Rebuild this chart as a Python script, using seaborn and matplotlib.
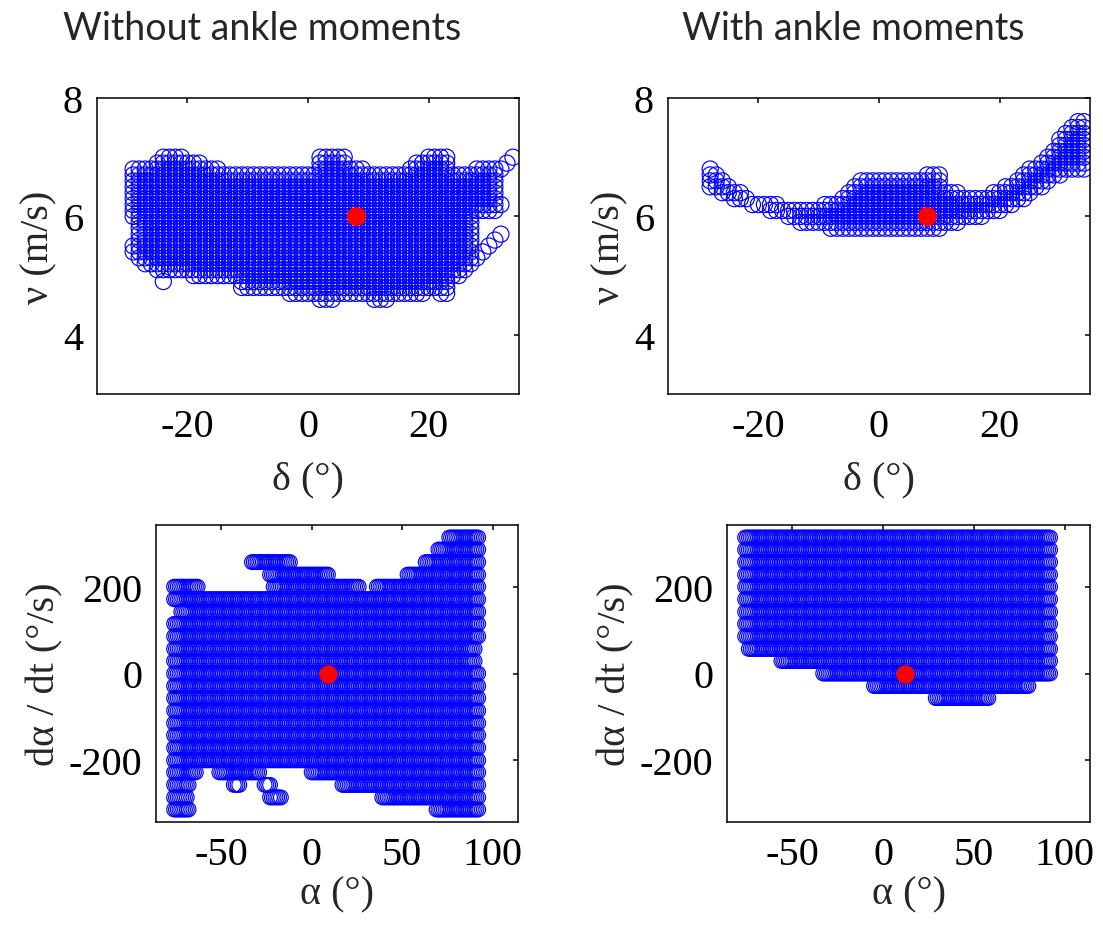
import numpy as np
import pandas as pd
import matplotlib
matplotlib.use("Agg")
import matplotlib.pyplot as plt
import seaborn as sns

# ---------------------------------------------------------------------------
# Top row: stable (steer angle δ [deg], speed ν [m/s]) states.
# Each δ column holds speeds from low to high on a 0.1 m/s grid.
# ---------------------------------------------------------------------------
V_STEP = 0.1

no_ankle_delta = [-29, -28, -27, -26, -25, -24, -23, -22, -21, -20, -19, -18,
                  -17, -16, -15, -14, -13, -12, -11, -10, -9, -8, -7, -6, -5,
                  -4, -3, -2, -1, 0, 1, 2, 3, 4, 5, 6, 7, 8, 9, 10, 11, 12,
                  13, 14, 15, 16, 17, 18, 19, 20, 21, 22, 23, 24, 25, 26, 27,
                  28, 29, 30, 31]
no_ankle_v_low = [6.0, 5.3, 5.2, 5.2, 5.1, 5.1, 5.1, 5.1, 5.1, 5.1, 5.0, 5.0,
                  5.0, 5.0, 5.0, 5.0, 5.0, 5.0, 4.8, 4.8, 4.8, 4.8, 4.8, 4.8,
                  4.8, 4.8, 4.7, 4.7, 4.7, 4.7, 4.7, 4.6, 4.6, 4.6, 4.7, 4.7,
                  4.7, 4.7, 4.7, 4.7, 4.6, 4.6, 4.6, 4.7, 4.7, 4.7, 4.7, 4.7,
                  4.7, 4.8, 4.8, 4.7, 4.7, 5.0, 5.0, 5.1, 5.2, 6.1, 6.1, 6.1,
                  6.1]
no_ankle_v_high = [6.8, 6.8, 6.8, 6.8, 6.9, 7.0, 7.0, 7.0, 7.0, 6.9, 6.9, 6.9,
                   6.8, 6.8, 6.8, 6.7, 6.7, 6.7, 6.7, 6.7, 6.7, 6.7, 6.7, 6.7,
                   6.7, 6.7, 6.7, 6.7, 6.7, 6.7, 6.7, 7.0, 7.0, 7.0, 7.0, 7.0,
                   6.8, 6.8, 6.8, 6.7, 6.7, 6.7, 6.7, 6.7, 6.7, 6.7, 6.8, 6.9,
                   6.9, 7.0, 7.0, 7.0, 7.0, 6.7, 6.7, 6.7, 6.7, 6.8, 6.8, 6.8,
                   6.8]
# isolated stable states outside the main block
no_ankle_extra_delta = [-29, -29, -24, 28, 29, 30, 31, 32, 32, 32, 33, 34]
no_ankle_extra_v = [5.4, 5.5, 4.9, 5.3, 5.4, 5.5, 5.6, 5.7, 6.2, 6.8, 6.9, 7.0]

ankle_delta = list(range(-28, 35))
ankle_v_low = [6.5, 6.5, 6.4, 6.4, 6.3, 6.3, 6.3, 6.2, 6.2, 6.2, 6.1, 6.1,
               6.1, 6.0, 6.0, 5.9, 5.9, 5.9, 5.9, 5.9, 5.8, 5.8, 5.8, 5.8,
               5.8, 5.8, 5.8, 5.8, 5.8, 5.8, 5.8, 5.8, 5.8, 5.8, 5.8, 5.8,
               5.8, 5.8, 5.8, 5.9, 5.9, 5.9, 6.0, 6.0, 6.0, 6.0, 6.1, 6.1,
               6.1, 6.2, 6.2, 6.3, 6.3, 6.4, 6.5, 6.5, 6.6, 6.7, 6.7, 6.8,
               6.8, 6.8, 6.8]
ankle_v_high = [6.8, 6.7, 6.6, 6.5, 6.4, 6.4, 6.3, 6.2, 6.2, 6.2, 6.2, 6.2,
                6.1, 6.1, 6.1, 6.1, 6.1, 6.1, 6.1, 6.2, 6.2, 6.2, 6.3, 6.4,
                6.5, 6.6, 6.6, 6.6, 6.6, 6.6, 6.6, 6.6, 6.6, 6.6, 6.6, 6.6,
                6.7, 6.7, 6.7, 6.4, 6.4, 6.4, 6.3, 6.3, 6.3, 6.3, 6.3, 6.4,
                6.4, 6.5, 6.5, 6.6, 6.7, 6.8, 6.8, 6.9, 7.0, 7.1, 7.3, 7.4,
                7.5, 7.6, 7.6]

# nominal operating point (δ, ν)
nominal_delta = [8, 8]
nominal_v = [6.0, 6.0]

# ---------------------------------------------------------------------------
# Bottom row: stable (ankle angle α [deg], rate dα/dt [deg/s]) states.
# Each segment is one rate level spanning α_lo..α_hi on a 1 deg grid.
# ---------------------------------------------------------------------------
ALPHA_STEP = 1

no_ankle_rate = [315, 287, 258, 258, 229, 229, 201, 201, 201, 172, 143, 115,
                 86, 57, 29, 0, -29, -57, -86, -115, -143, -172, -201,
                 -229, -229, -229, -258, -258, -258, -258, -287, -287, -287,
                 -315, -315]
no_ankle_alpha_lo = [76, 70, -33, 63, -23, 53, -76, -21, 36, -76, -72, -76,
                     -76, -76, -76, -76, -76, -76, -76, -76, -76, -76, -76,
                     -76, -51, 0, -76, -43, -26, 17, -76, -23, 39, -76, 69]
no_ankle_alpha_hi = [92, 92, -12, 92, 9, 92, -63, 26, 92, 92, 92, 92,
                     92, 90, 90, 92, 92, 92, 92, 92, 92, 92, 92,
                     -64, -29, 92, -68, -40, -23, 92, -69, -17, 92, -68, 92]

ankle_rate = [315, 287, 258, 229, 201, 172, 143, 115, 86, 57, 29, 0, -29, -57]
ankle_alpha_lo = [-76, -76, -76, -76, -76, -76, -76, -76, -76, -74, -56, -33,
                  -5, 29]
ankle_alpha_hi = [92, 92, 92, 92, 92, 92, 92, 92, 92, 92, 92, 92, 80, 58]

nominal_alpha = [9, 12]
nominal_rate = [0, 0]

titles = ["Without ankle moments", "With ankle moments"]


def columns_to_frame(xs, lows, highs, step, extra_x=(), extra_y=()):
    px, py = [], []
    for x, lo, hi in zip(xs, lows, highs):
        ys = np.round(np.arange(lo, hi + step / 2, step), 3)
        px.extend([x] * len(ys))
        py.extend(ys)
    px.extend(extra_x)
    py.extend(extra_y)
    return pd.DataFrame({"x": px, "y": py})


def rows_to_frame(levels, lows, highs, step):
    px, py = [], []
    for y, lo, hi in zip(levels, lows, highs):
        xs = np.arange(lo, hi + step / 2, step)
        px.extend(xs)
        py.extend([y] * len(xs))
    return pd.DataFrame({"x": px, "y": py})


sns.set_theme(style="white")
plt.rcParams.update({
    "axes.unicode_minus": False,
    "font.family": ["Liberation Serif", "DejaVu Serif"],
    "axes.linewidth": 1.1,
    "xtick.direction": "in",
    "ytick.direction": "in",
    "xtick.top": True,
    "ytick.right": True,
    "xtick.major.size": 3.5,
    "ytick.major.size": 3.5,
    "xtick.major.width": 1.1,
    "ytick.major.width": 1.1,
    "xtick.color": "black",
    "ytick.color": "black",
    "axes.edgecolor": "black",
})

fig = plt.figure(figsize=(11.03, 9.28), dpi=100)
W, H = 1103, 928


def add_axes(left, right, top, bottom):
    return fig.add_axes([left / W, 1 - bottom / H, (right - left) / W,
                         (bottom - top) / H])


ax_tl = add_axes(97, 519, 99, 395)
ax_tr = add_axes(668, 1090, 99, 395)
ax_bl = add_axes(156, 518, 526, 823)
ax_br = add_axes(727, 1090, 526, 823)

BLUE = "#0000ff"
RED = "#ff0000"
tick_fs = 29
label_fs = 29

top_frames = [
    columns_to_frame(no_ankle_delta, no_ankle_v_low, no_ankle_v_high, V_STEP,
                     no_ankle_extra_delta, no_ankle_extra_v),
    columns_to_frame(ankle_delta, ankle_v_low, ankle_v_high, V_STEP),
]
bottom_frames = [
    rows_to_frame(no_ankle_rate, no_ankle_alpha_lo, no_ankle_alpha_hi,
                  ALPHA_STEP),
    rows_to_frame(ankle_rate, ankle_alpha_lo, ankle_alpha_hi, ALPHA_STEP),
]

for i, (ax, df) in enumerate(zip([ax_tl, ax_tr], top_frames)):
    sns.scatterplot(data=df, x="x", y="y", ax=ax, marker="o", s=135,
                    facecolor="none", edgecolor=BLUE, linewidth=0.85,
                    legend=False, zorder=2)
    sns.scatterplot(x=[nominal_delta[i]], y=[nominal_v[i]], ax=ax, s=190,
                    color=RED, edgecolor=RED, linewidth=0, legend=False,
                    zorder=3)
    ax.set_xlim(-35, 35)
    ax.set_ylim(3, 8)
    ax.set_xticks([-20, 0, 20])
    ax.set_yticks([4, 6, 8])
    ax.set_xlabel("δ (°)", fontsize=label_fs, labelpad=11)
    ax.set_ylabel("ν (m/s)", fontsize=label_fs, labelpad=4)

for i, (ax, df) in enumerate(zip([ax_bl, ax_br], bottom_frames)):
    sns.scatterplot(data=df, x="x", y="y", ax=ax, marker="o", s=112,
                    facecolor="none", edgecolor=BLUE, linewidth=0.85,
                    legend=False, zorder=2)
    sns.scatterplot(x=[nominal_alpha[i]], y=[nominal_rate[i]], ax=ax, s=175,
                    color=RED, edgecolor=RED, linewidth=0, legend=False,
                    zorder=3)
    ax.set_xlim(-86, 114)
    ax.set_ylim(-344, 344)
    ax.set_xticks([-50, 0, 50, 100])
    ax.set_yticks([-200, 0, 200])
    ax.set_xlabel("α (°)", fontsize=label_fs, labelpad=2)
    ax.set_ylabel("dα / dt (°/s)", fontsize=label_fs, labelpad=4)

for ax in [ax_tl, ax_tr, ax_bl, ax_br]:
    ax.tick_params(labelsize=tick_fs, pad=10)
    for sp in ax.spines.values():
        sp.set_visible(True)
        sp.set_color("black")
    ax.set_facecolor("white")

fig.text(262 / W, 1 - 29 / H, titles[0], ha="center", va="center",
         fontsize=27, family=["Lato", "DejaVu Sans"])
fig.text(853 / W, 1 - 29 / H, titles[1], ha="center", va="center",
         fontsize=27, family=["Lato", "DejaVu Sans"])

fig.savefig("out.png", dpi=100, facecolor="white")
